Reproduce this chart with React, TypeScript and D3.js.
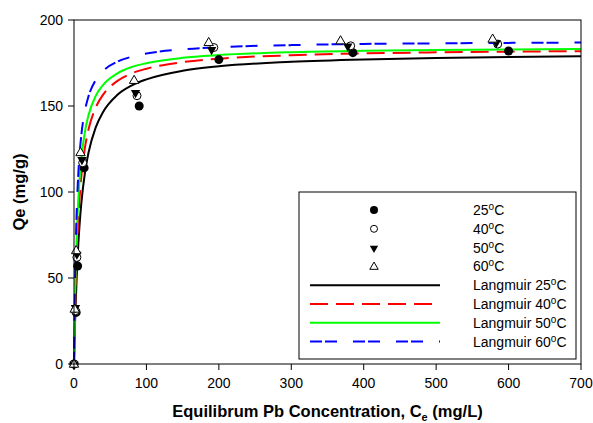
import React from 'react'
import * as d3 from 'd3'

// measured points (Ce, Qe)
const ce25 = [0, 3, 5, 14, 90, 200, 385, 600]
const qe25 = [0, 30, 57, 114, 150, 177, 181, 182]
const ce40 = [0, 2, 4, 12, 87, 193, 382, 585]
const qe40 = [0, 31, 62, 117, 156, 184, 185, 186]
const ce50 = [0, 2, 4, 11, 85, 190, 378, 583]
const qe50 = [0, 33, 64, 119, 158, 183, 185, 187]
const ce60 = [0, 1, 3, 9, 83, 186, 368, 578]
const qe60 = [0, 32, 66, 123, 165, 187, 188, 189]

// Langmuir fitted curves, sampled at these Ce values
const fitCe = [0, 1, 2, 4, 6, 8, 10, 15, 20, 30, 40, 60, 80, 100, 150, 200, 300, 400, 500, 600, 700]
const fit25 = [0, 17.2, 31.5, 53.6, 70.1, 82.8, 92.9, 110.9, 122.8, 137.6, 146.4, 156.5, 162.0, 165.5, 170.5, 173.1, 175.7, 177.1, 177.9, 178.5, 178.9]
const fit40 = [0, 23.1, 41.0, 67.0, 85.0, 98.2, 108.3, 125.5, 136.3, 149.1, 156.5, 164.6, 169.0, 171.7, 175.5, 177.5, 179.5, 180.6, 181.2, 181.6, 181.9]
const fit50 = [0, 28.3, 49.1, 77.5, 96.1, 109.2, 118.9, 134.9, 144.6, 155.9, 162.2, 169.0, 172.7, 174.9, 178.0, 179.6, 181.3, 182.1, 182.6, 182.9, 183.2]
const fit60 = [0, 36.4, 61.0, 92.1, 111.0, 123.6, 132.7, 147.1, 155.6, 165.1, 170.3, 175.8, 178.7, 180.5, 182.9, 184.2, 185.4, 186.1, 186.4, 186.7, 186.9]

const xTicks = [0, 100, 200, 300, 400, 500, 600, 700]
const yTicks = [0, 50, 100, 150, 200]

const W = 593
const H = 423
const margin = { left: 74, right: 12, top: 20, bottom: 59 }
const font = 'Liberation Sans, Arial, sans-serif'

type Marker = 'circle' | 'ocircle' | 'tdown' | 'tup'

const pointSets: { ce: number[]; qe: number[]; marker: Marker; label: string }[] = [
  { ce: ce25, qe: qe25, marker: 'circle', label: '25' },
  { ce: ce40, qe: qe40, marker: 'ocircle', label: '40' },
  { ce: ce50, qe: qe50, marker: 'tdown', label: '50' },
  { ce: ce60, qe: qe60, marker: 'tup', label: '60' },
]

const fitSets = [
  { q: fit25, color: '#000000', dash: undefined as string | undefined, label: '25' },
  { q: fit40, color: '#ff0000', dash: '18,8', label: '40' },
  { q: fit50, color: '#00ff00', dash: undefined, label: '50' },
  { q: fit60, color: '#0000ff', dash: '12,3,12,16', label: '60' },
]

const MarkerShape = ({ type, x, y, r }: { type: Marker; x: number; y: number; r: number }) => {
  if (type === 'circle') return <circle cx={x} cy={y} r={r} fill="#000" />
  if (type === 'ocircle') return <circle cx={x} cy={y} r={r - 0.5} fill="#fff" stroke="#000" strokeWidth={1} />
  const s = d3.symbol().type(d3.symbolTriangle).size(r * r * 1.9)()
  if (type === 'tdown')
    return <path d={s} transform={`translate(${x},${y + 0.5}) rotate(180)`} fill="#000" />
  return <path d={s} transform={`translate(${x},${y + 0.5})`} fill="#fff" stroke="#000" strokeWidth={1} />
}

const Deg = ({ t }: { t: string }) => (
  <>
    {t}
    <tspan dy={-5} fontSize={10}>o</tspan>
    <tspan dy={5}>C</tspan>
  </>
)

export default function App() {
  const x = d3.scaleLinear().domain([0, 700]).range([margin.left, W - margin.right])
  const y = d3.scaleLinear().domain([0, 200]).range([H - margin.bottom, margin.top])
  const line = d3
    .line<number>()
    .x((_, i) => x(fitCe[i]))
    .y((d) => y(d))
    .curve(d3.curveMonotoneX)

  const x0 = x(0), x1 = x(700), y0 = y(0), y1 = y(200)

  // legend box
  const lg = { x: 299, y: 192, w: 277, h: 167 }
  const rowH = 18.8
  const rowY = (i: number) => lg.y + 18 + i * rowH
  const symX = 374
  const txtX = 473

  return (
    <svg width={W} height={H} style={{ position: 'absolute', left: 0, top: 0 }} fontFamily={font}>
      <rect width={W} height={H} fill="#fff" />

      {fitSets.map((f) => (
        <path key={f.label} d={line(f.q) ?? ''} fill="none" stroke={f.color} strokeWidth={2} strokeDasharray={f.dash} />
      ))}

      {pointSets.map((p) =>
        p.ce.map((c, i) => <MarkerShape key={p.label + i} type={p.marker} x={x(c)} y={y(p.qe[i])} r={4.5} />)
      )}

      {/* frame */}
      <rect x={x0} y={y1} width={x1 - x0} height={y0 - y1} fill="none" stroke="#000" strokeWidth={1} />

      {xTicks.map((t) => (
        <g key={'x' + t}>
          <line x1={x(t)} x2={x(t)} y1={y0} y2={y0 + 6} stroke="#000" />
          <text x={x(t)} y={y0 + 24} textAnchor="middle" fontSize={14}>{t}</text>
        </g>
      ))}
      {yTicks.map((t) => (
        <g key={'y' + t}>
          <line x1={x0 - 6} x2={x0} y1={y(t)} y2={y(t)} stroke="#000" />
          <text x={x0 - 11} y={y(t) + 5} textAnchor="end" fontSize={14}>{t}</text>
        </g>
      ))}

      <text x={(x0 + x1) / 2} y={417} textAnchor="middle" fontSize={16.5} fontWeight="bold">
        Equilibrum Pb Concentration, C<tspan dy={4} fontSize={11}>e</tspan>
        <tspan dy={-4}> (mg/L)</tspan>
      </text>
      <text transform={`translate(25,${(y0 + y1) / 2}) rotate(-90)`} textAnchor="middle" fontSize={16.5} fontWeight="bold">
        Qe (mg/g)
      </text>

      {/* legend */}
      <rect x={lg.x} y={lg.y} width={lg.w} height={lg.h} fill="#fff" stroke="#000" strokeWidth={1} />
      {pointSets.map((p, i) => (
        <g key={'lp' + p.label}>
          <MarkerShape type={p.marker} x={symX} y={rowY(i)} r={4} />
          <text x={txtX} y={rowY(i) + 5} fontSize={14}><Deg t={p.label} /></text>
        </g>
      ))}
      {fitSets.map((f, i) => (
        <g key={'lf' + f.label}>
          <line x1={310} x2={440} y1={rowY(i + 4)} y2={rowY(i + 4)} stroke={f.color} strokeWidth={2} strokeDasharray={f.dash} />
          <text x={txtX} y={rowY(i + 4) + 5} fontSize={14}><Deg t={'Langmuir ' + f.label} /></text>
        </g>
      ))}
    </svg>
  )
}
